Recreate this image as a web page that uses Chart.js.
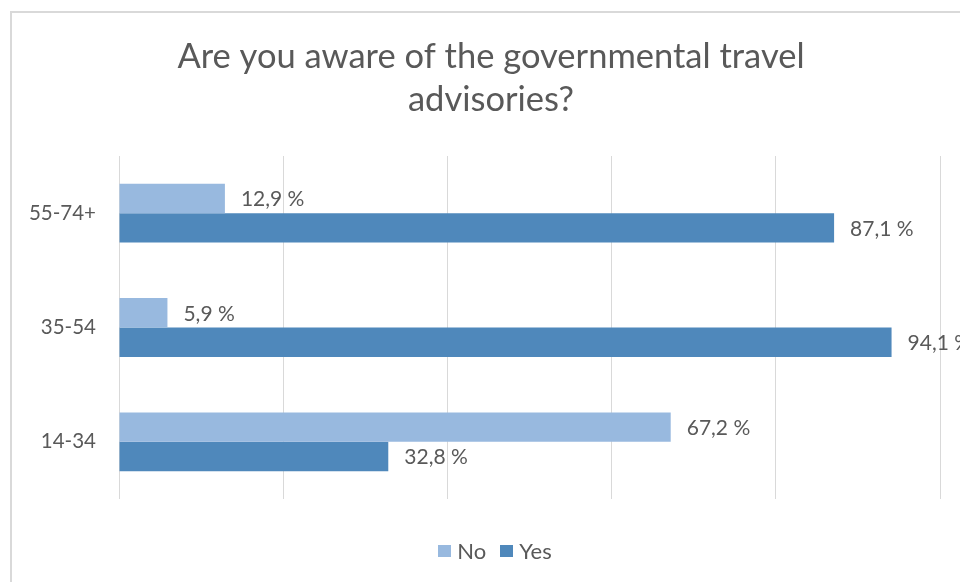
<!DOCTYPE html>
<html>
<head>
<meta charset="utf-8">
<title>Awareness of governmental travel advisories</title>
<script src="https://cdn.jsdelivr.net/npm/chart.js@4.4.1/dist/chart.umd.min.js"></script>
<style>
  html, body { margin: 0; padding: 0; background: #ffffff; overflow: hidden; }
  body { width: 960px; height: 582px; position: relative; }
  #frame {
    position: absolute; left: 10px; top: 11px;
    width: 1000px; height: 1000px;
    border: 2px solid #d9d9d9; box-sizing: border-box;
  }
  #wrap { position: absolute; left: 0; top: 0; width: 960px; height: 582px; }
</style>
</head>
<body>
<div id="frame"></div>
<div id="wrap"><canvas id="chart" width="960" height="582"></canvas></div>
<script>
// Age groups (top to bottom) and share of answers per group, in percent
const ageGroups = ['55-74+', '35-54', '14-34'];
const noValues  = [12.9, 5.9, 67.2];
const yesValues = [87.1, 94.1, 32.8];
const seriesNames = ['No', 'Yes'];
const titleLines = ['Are you aware of the governmental travel', 'advisories?'];
const axisMax = 100;
const axisStep = 20;

const TEXT = '#595959';
const FONT = 'Lato, "Open Sans", sans-serif';

// Two-line chart title, centred over the frame rather than the plot
const frameTitle = {
  id: 'frameTitle',
  afterDraw(chart) {
    const ctx = chart.ctx;
    ctx.save();
    ctx.font = '34.5px ' + FONT;
    ctx.fillStyle = TEXT;
    ctx.textAlign = 'center';
    ctx.textBaseline = 'middle';
    titleLines.forEach((line, i) => ctx.fillText(line, 491, 57 + i * 43));
    ctx.restore();
  }
};

// Series key under the plot: small square swatch, then the series name
const seriesKey = {
  id: 'seriesKey',
  afterDraw(chart) {
    const ctx = chart.ctx;
    const box = { w: 13, h: 12 }, gap = 6, itemGap = 14;
    const centerX = 495, centerY = 551;
    ctx.save();
    ctx.font = '22px ' + FONT;
    ctx.textBaseline = 'middle';
    ctx.textAlign = 'left';
    const items = chart.data.datasets.map(ds => ({
      text: ds.label, color: ds.backgroundColor, w: ctx.measureText(ds.label).width
    }));
    const total = items.reduce((s, it) => s + box.w + gap + it.w, 0) + itemGap * (items.length - 1);
    let x = centerX - total / 2;
    items.forEach(it => {
      ctx.fillStyle = it.color;
      ctx.fillRect(Math.round(x), Math.round(centerY - box.h / 2), box.w, box.h);
      x += box.w + gap;
      ctx.fillStyle = TEXT;
      ctx.fillText(it.text, x, centerY + 1);
      x += it.w + itemGap;
    });
    ctx.restore();
  }
};

// Writes "12,9 %" style labels just past the end of every bar
const valueLabels = {
  id: 'valueLabels',
  afterDatasetsDraw(chart) {
    const ctx = chart.ctx;
    ctx.save();
    ctx.font = '21px ' + FONT;
    ctx.fillStyle = TEXT;
    ctx.textAlign = 'left';
    ctx.textBaseline = 'middle';
    chart.data.datasets.forEach((ds, i) => {
      chart.getDatasetMeta(i).data.forEach((bar, j) => {
        const txt = ds.data[j].toFixed(1).replace('.', ',') + ' %';
        ctx.fillText(txt, bar.x + 16, bar.y + 1);
      });
    });
    ctx.restore();
  }
};

new Chart(document.getElementById('chart'), {
  type: 'bar',
  data: {
    labels: ageGroups,
    datasets: [
      { label: seriesNames[0], data: noValues,  backgroundColor: '#98b9df', borderWidth: 0 },
      { label: seriesNames[1], data: yesValues, backgroundColor: '#4f88bb', borderWidth: 0 }
    ]
  },
  options: {
    indexAxis: 'y',
    responsive: false,
    animation: false,
    devicePixelRatio: 1,
    categoryPercentage: 0.515,
    barPercentage: 1.0,
    layout: { padding: { left: 12, right: 20, top: 156, bottom: 83 } },
    scales: {
      x: {
        min: 0, max: axisMax,
        ticks: { display: false, stepSize: axisStep },
        grid: { color: '#d9d9d9', lineWidth: 1, drawTicks: false },
        border: { display: false },
        afterFit(scale) { scale.height = 0; }
      },
      y: {
        ticks: { color: TEXT, font: { family: FONT, size: 20.5 }, padding: 23 },
        grid: { display: false, drawTicks: false },
        border: { display: false },
        afterFit(scale) { scale.width = 107; }
      }
    },
    plugins: {
      title: { display: false },
      legend: { display: false },
      tooltip: { enabled: false }
    }
  },
  plugins: [valueLabels, frameTitle, seriesKey]
});
</script>
</body>
</html>
